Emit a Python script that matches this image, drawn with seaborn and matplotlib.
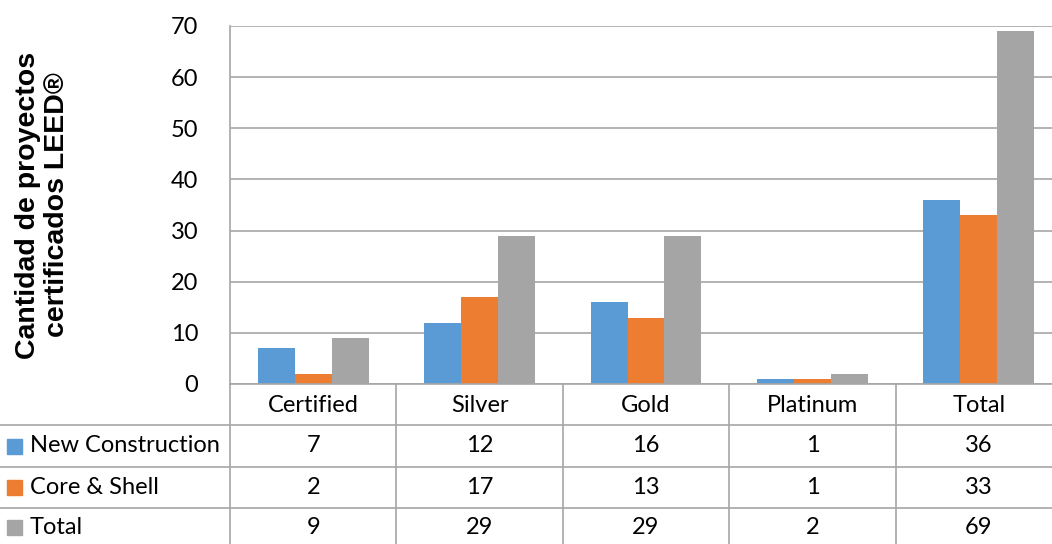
import matplotlib
matplotlib.use("Agg")
import matplotlib.pyplot as plt
import seaborn as sns
import pandas as pd
from matplotlib.patches import Rectangle

categories = ["Certified", "Silver", "Gold", "Platinum", "Total"]
series_names = ["New Construction", "Core & Shell", "Total"]
new_construction = [7, 12, 16, 1, 36]
core_shell = [2, 17, 13, 1, 33]
total = [9, 29, 29, 2, 69]
yticks = [0, 10, 20, 30, 40, 50, 60, 70]
colors = ["#5B9BD5", "#ED7D31", "#A5A5A5"]
ylabel = "Cantidad de proyectos\ncertificados LEED®"

series_values = [new_construction, core_shell, total]
rows = []
for name, vals in zip(series_names, series_values):
    for c, v in zip(categories, vals):
        rows.append({"cat": c, "series": name, "value": v})
df = pd.DataFrame(rows)

sns.set_theme(style="white")
plt.rcParams['font.family'] = ['Lato', 'DejaVu Sans']
plt.rcParams['text.color'] = 'black'
plt.rcParams['ytick.color'] = 'black'

W, H = 1052, 544
fig = plt.figure(figsize=(W / 100, H / 100), dpi=100)
ax = fig.add_axes([230 / W, (H - 384) / H, 832 / W, 358 / H])

sns.barplot(data=df, x="cat", y="value", hue="series", hue_order=series_names,
            order=categories, palette=colors, width=0.667, saturation=1,
            ax=ax, legend=False, linewidth=0)

grid_c = "#A6A6A6"
fs = 17
ax.set_xlim(-0.5, len(categories) - 0.5)
ax.set_ylim(0, 70)
ax.set_yticks(yticks)
ax.set_yticklabels([str(t) for t in yticks], fontsize=fs, color="#000000")
ax.tick_params(axis="y", length=0, pad=23)
ax.set_xticks([])
ax.set_xlabel("")
ax.set_ylabel("")
ax.yaxis.grid(True, color=grid_c, linewidth=1.2)
ax.set_axisbelow(True)
for s in ["top", "right", "bottom"]:
    ax.spines[s].set_visible(False)
ax.spines["left"].set_color(grid_c)
ax.spines["left"].set_linewidth(1.2)

# Data table below the axes
px_per_cat = 832 / len(categories)
def px_to_x(px):
    return (px - 230) / px_per_cat - 0.5
tr = ax.get_xaxis_transform()
row_lines = [0.0, -41 / 358, -83 / 358, -124 / 358]
bottom = -0.45
for i, y in enumerate(row_lines):
    x0 = -0.5 if i == 0 else px_to_x(0)
    ax.plot([x0, len(categories) - 0.5 + 0.2], [y, y], transform=tr,
            color=grid_c, lw=1.2, clip_on=False)
for k in range(len(categories)):
    xb = k - 0.5
    ax.plot([xb, xb], [0, bottom], transform=tr, color=grid_c, lw=1.2, clip_on=False)

header_y = -21 / 358
row_y = [-62 / 358, -103 / 358, -143 / 358]
for k, c in enumerate(categories):
    ax.text(k, header_y, c, transform=tr, ha="center", va="center", fontsize=fs)
for r, (name, vals, col) in enumerate(zip(series_names, series_values, colors)):
    for k, v in enumerate(vals):
        ax.text(k, row_y[r], str(v), transform=tr, ha="center", va="center", fontsize=fs)
    ax.text(px_to_x(30), row_y[r], name, transform=tr, ha="left", va="center", fontsize=fs)
    yc = H - (384 + (62 + 41 * r if r < 2 else 143))
    fig.patches.append(Rectangle((7 / W, (yc - 7.5) / H), 15 / W, 15 / H,
                                 transform=fig.transFigure, color=col, figure=fig))

fig.text(43 / W, (H - 205) / H, ylabel, rotation=90, ha="center", va="center",
         fontsize=20.5, fontweight="bold", family=["Liberation Sans", "DejaVu Sans"],
         linespacing=1.15, color="black")

fig.savefig("out.png", dpi=100)
